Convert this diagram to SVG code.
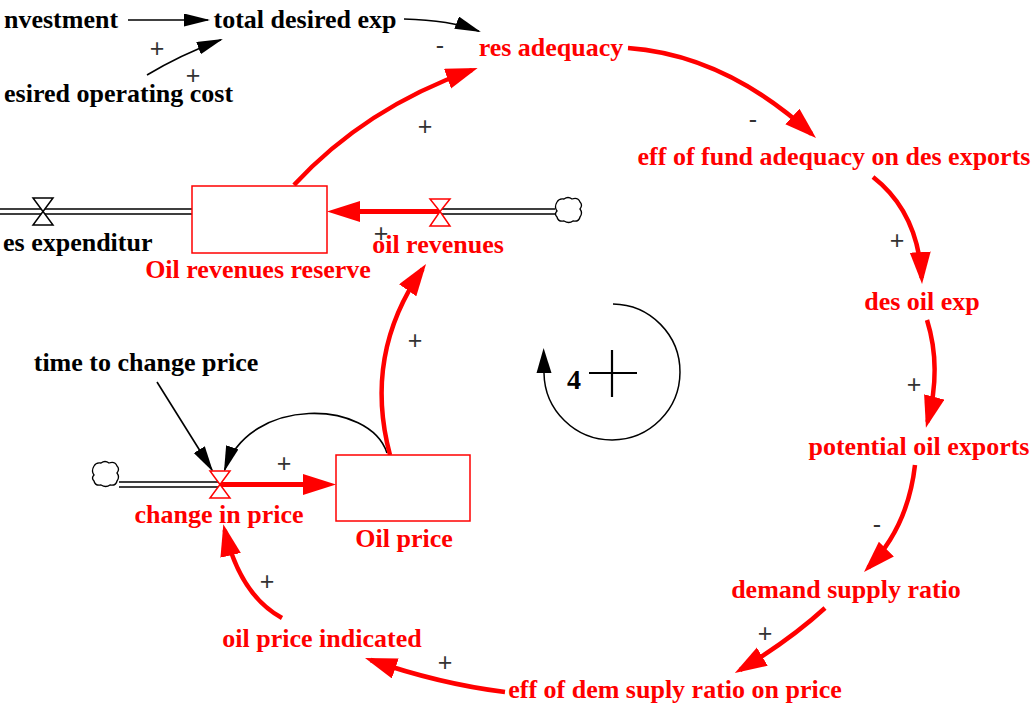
<svg xmlns="http://www.w3.org/2000/svg" width="1036" height="711" viewBox="0 0 1036 711">
<defs>
<style>
.t{font-family:"Liberation Serif","Times New Roman",serif;font-weight:bold;font-size:26px;}
.r{fill:#ff0000;}
.k{fill:#000;}
.s{font-family:"Liberation Sans",Arial,sans-serif;font-size:25px;fill:#333;text-anchor:middle;}
.rc{fill:none;stroke:#ff0000;stroke-width:4.5;marker-end:url(#ar);}
.bc{fill:none;stroke:#000;stroke-width:1.6;marker-end:url(#ab);}
.pipe{stroke:#000;stroke-width:1.5;fill:none;}
.stock{fill:#fff;stroke:#ff0000;stroke-width:1.5;}
</style>
<marker id="ar" markerUnits="userSpaceOnUse" markerWidth="34" markerHeight="22" refX="26" refY="10.5" orient="auto" viewBox="0 0 34 22"><path d="M0,0 L32,10.5 L0,21 z" fill="#ff0000"/></marker>
<marker id="ab" markerUnits="userSpaceOnUse" markerWidth="28" markerHeight="14" refX="24" refY="6.5" orient="auto" viewBox="0 0 28 14"><path d="M0,0 L26,6.5 L0,13 z" fill="#000"/></marker>
<marker id="al" markerUnits="userSpaceOnUse" markerWidth="26" markerHeight="16" refX="0" refY="7.5" orient="auto" viewBox="0 0 26 16"><path d="M0,0 L25,7.5 L0,15 z" fill="#000"/></marker>
</defs>

<g id="connectors">
<path class="bc" d="M128,20 L208,20"/>
<path class="bc" d="M147,75 Q180,55 221,39.7"/>
<path class="bc" d="M404,19 Q450,20 479,31.3"/>
<path class="bc" d="M157,382 L212,470"/>
<path class="bc" d="M387,453 C370,400 250,395 224.6,470"/>
<path class="rc" d="M294,185 Q365,108 472,70"/>
<path class="rc" d="M628,48 Q725,55 811.6,134"/>
<path class="rc" d="M873,177 Q918,212 921.7,278"/>
<path class="rc" d="M927,320 Q942,368 927.5,422"/>
<path class="rc" d="M915,465 Q908,527 868.2,567.7"/>
<path class="rc" d="M825,608 Q790,640 740,670"/>
<path class="rc" d="M505,692 Q440,684 370.7,660"/>
<path class="rc" d="M282,618 Q240,595 224.7,530"/>
<path class="rc" d="M390,455 Q363,354 422.6,269"/>
</g>

<g id="loop">
<path d="M613,304 A68,68 0 1 1 544,373" fill="none" stroke="#000" stroke-width="1.5" marker-end="url(#al)"/>
<path d="M589,373 L637,373 M612,350 L612,397" stroke="#000" stroke-width="2.2"/>
<text class="t k" x="574" y="389" text-anchor="middle" style="font-size:28px">4</text>
</g>

<g id="flow-res-expenditur">
<path class="pipe" d="M0,209 L192,209 M0,214 L192,214"/>
<polygon points="33,198 53,198 43,211.5 53,225 33,225 43,211.5" fill="#fff" stroke="#000" stroke-width="1.5"/>
<text class="t k" x="3" y="251">es expenditur</text>
</g>

<g id="flow-oil-revenues">
<path class="pipe" d="M440,209 L555,209 M440,214 L555,214"/>
<path d="M440,211.5 L355,211.5" stroke="#ff0000" stroke-width="5"/>
<polygon points="327,211.5 360,201 360,222" fill="#ff0000"/>
<polygon points="430,199 450,199 440,211.5 450,226 430,226 440,211.5" fill="#fff" stroke="#ff0000" stroke-width="1.5"/>
<text class="t r" x="438" y="253" text-anchor="middle">oil revenues</text>
</g>

<g id="cloud-1">
<path d="M557,202 q2,-4 7,-3 q4,-3 8,0 q6,-2 8,3 q3,3 0,7 q3,4 0,8 q-1,5 -7,4 q-4,3 -9,0 q-6,1 -7,-4 q-3,-3 0,-6 q-3,-4 0,-9 z" fill="#fff" stroke="#000" stroke-width="1.3"/>
</g>

<g id="stock-oil-revenues-reserve">
<rect class="stock" x="192" y="186" width="135" height="67"/>
<text class="t r" x="258" y="278" text-anchor="middle">Oil revenues reserve</text>
</g>

<g id="flow-change-in-price">
<path class="pipe" d="M119,482 L220,482 M119,487 L220,487"/>
<path d="M220,484.5 L306,484.5" stroke="#ff0000" stroke-width="5"/>
<polygon points="336,484.5 303,474 303,495" fill="#ff0000"/>
<polygon points="210,471 230,471 220,484.5 230,498 210,498 220,484.5" fill="#fff" stroke="#ff0000" stroke-width="1.5"/>
<text class="t r" x="219" y="523" text-anchor="middle">change in price</text>
</g>

<g id="cloud-2">
<path d="M94,466 q2,-4 7,-3 q4,-3 8,0 q6,-2 8,3 q3,3 0,7 q3,4 0,8 q-1,5 -7,4 q-4,3 -9,0 q-6,1 -7,-4 q-3,-3 0,-6 q-3,-4 0,-9 z" fill="#fff" stroke="#000" stroke-width="1.3"/>
</g>

<g id="stock-oil-price">
<rect class="stock" x="336" y="455" width="134" height="66"/>
<text class="t r" x="404" y="547" text-anchor="middle">Oil price</text>
</g>

<g id="node-investment"><text class="t k" x="4" y="28">nvestment</text></g>
<g id="node-total-desired-exp"><text class="t k" x="305" y="28" text-anchor="middle">total desired exp</text></g>
<g id="node-desired-operating-cost"><text class="t k" x="4" y="102">esired operating cost</text></g>
<g id="node-res-adequacy"><text class="t r" x="551" y="56" text-anchor="middle">res adequacy</text></g>
<g id="node-eff-fund"><text class="t r" x="834" y="165" text-anchor="middle">eff of fund adequacy on des exports</text></g>
<g id="node-des-oil-exp"><text class="t r" x="922" y="310" text-anchor="middle">des oil exp</text></g>
<g id="node-time-to-change-price"><text class="t k" x="146" y="371" text-anchor="middle">time to change price</text></g>
<g id="node-potential-oil-exports"><text class="t r" x="919" y="455" text-anchor="middle">potential oil exports</text></g>
<g id="node-demand-supply-ratio"><text class="t r" x="846" y="598" text-anchor="middle">demand supply ratio</text></g>
<g id="node-oil-price-indicated"><text class="t r" x="322" y="647" text-anchor="middle">oil price indicated</text></g>
<g id="node-eff-dem"><text class="t r" x="675" y="698" text-anchor="middle">eff of dem suply ratio on price</text></g>

<g id="polarities">
<text class="s" x="157" y="57">+</text>
<text class="s" x="193" y="84">+</text>
<text class="s" x="440" y="54">-</text>
<text class="s" x="425" y="135">+</text>
<text class="s" x="753" y="128">-</text>
<text class="s" x="897" y="249">+</text>
<text class="s" x="381" y="242">+</text>
<text class="s" x="415" y="349">+</text>
<text class="s" x="914" y="393">+</text>
<text class="s" x="284" y="472">+</text>
<text class="s" x="877" y="533">-</text>
<text class="s" x="267" y="590">+</text>
<text class="s" x="765" y="642">+</text>
<text class="s" x="445" y="671">+</text>
</g>
</svg>
